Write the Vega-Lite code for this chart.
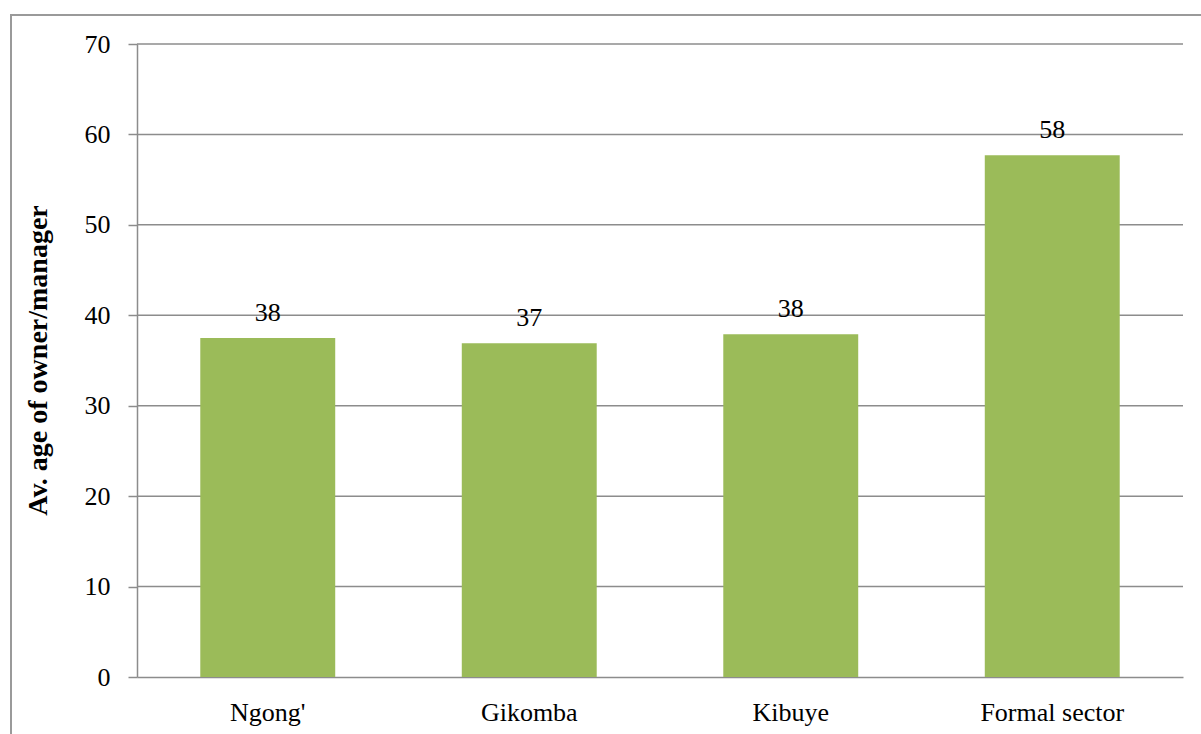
{
  "$schema": "https://vega.github.io/schema/vega-lite/v6.json",
  "width": 1193,
  "height": 722,
  "autosize": {"type": "none"},
  "padding": {"left": 11, "top": 15, "right": -3, "bottom": -3},
  "background": "white",
  "config": {
    "view": {"stroke": "#9a9a9a", "strokeWidth": 2},
    "font": "Liberation Serif"
  },
  "datasets": {
    "bars": [
      {"site": "Ngong'", "age": 37.5},
      {"site": "Gikomba", "age": 36.9},
      {"site": "Kibuye", "age": 37.9},
      {"site": "Formal sector", "age": 57.7}
    ],
    "grid": [
      {"v": 10}, {"v": 20}, {"v": 30}, {"v": 40}, {"v": 50}, {"v": 60}, {"v": 70}
    ]
  },
  "layer": [
    {
      "data": {"name": "grid"},
      "mark": {"type": "rule", "color": "#8c8c8c", "strokeWidth": 1.5},
      "encoding": {
        "y": {"field": "v", "type": "quantitative", "scale": {"domain": [0, 70], "range": [662, 29]}, "axis": null},
        "x": {"datum": 0, "type": "quantitative", "scale": {"domain": [0, 1], "range": [126, 1172]}, "axis": null},
        "x2": {"datum": 1}
      }
    },
    {
      "data": {"name": "bars"},
      "encoding": {
        "x": {
          "field": "site", "type": "nominal", "sort": null,
          "scale": {"range": [126, 1172], "paddingInner": 0.484, "paddingOuter": 0.242},
          "axis": {
            "title": null, "orient": "bottom", "offset": -60,
            "domainColor": "#8c8c8c", "domainWidth": 1.5,
            "ticks": false, "tickSize": 0,
            "labelAngle": 0, "labelFontSize": 26, "labelPadding": 22, "labelColor": "black"
          }
        },
        "y": {
          "field": "age", "type": "quantitative",
          "scale": {"domain": [0, 70], "range": [662, 29]},
          "axis": {
            "title": "Av. age of owner/manager", "offset": -126,
            "values": [0, 10, 20, 30, 40, 50, 60, 70],
            "grid": false,
            "domainColor": "#8c8c8c", "domainWidth": 1.5,
            "tickColor": "#8c8c8c", "tickWidth": 1.5, "tickSize": 9,
            "labelFontSize": 26, "labelPadding": 18, "labelColor": "black",
            "titleFontSize": 28, "titleFontWeight": "bold", "titleColor": "black",
            "titleX": -99, "titleY": 345, "titleAngle": 270,
            "titleAlign": "center", "titleBaseline": "middle"
          }
        }
      },
      "layer": [
        {"mark": {"type": "bar", "color": "#9bbb59"}},
        {
          "mark": {"type": "text", "fontSize": 26, "color": "black", "baseline": "alphabetic", "dy": -17},
          "encoding": {"text": {"field": "age", "type": "quantitative", "format": ".0f"}}
        }
      ]
    }
  ],
  "resolve": {"scale": {"x": "independent", "y": "independent"}}
}
